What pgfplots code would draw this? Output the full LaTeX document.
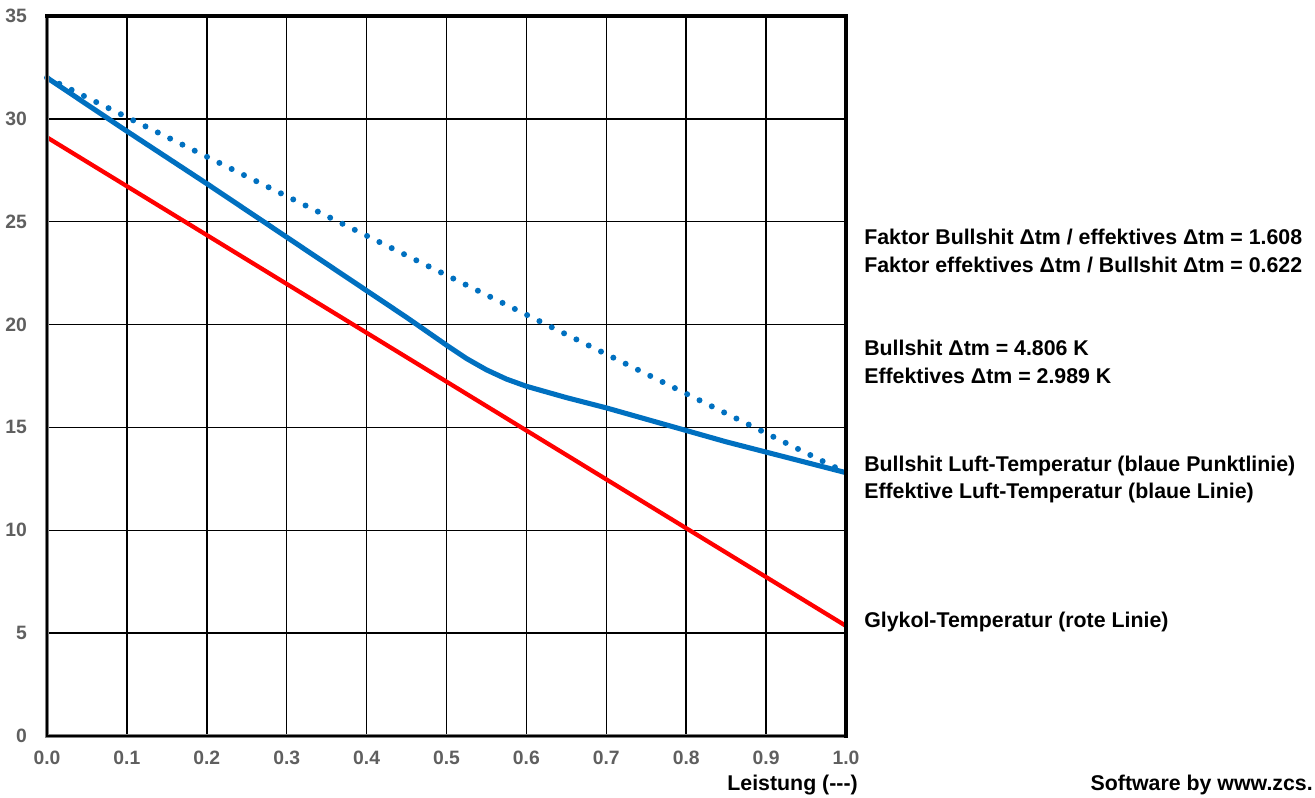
\documentclass[border=0pt]{standalone}
\usepackage{pgfplots}
\pgfplotsset{compat=1.18}
\usepackage{fontspec}
\setmainfont{Liberation Sans}

\definecolor{lineblue}{HTML}{0070C0}
\definecolor{linered}{HTML}{FF0000}
\definecolor{tickgray}{HTML}{5F5F5F}

\begin{document}
\begin{tikzpicture}
\useasboundingbox (0,0) rectangle (986.25pt,598.5pt);
\begin{axis}[
    at={(35.25pt,46.5pt)}, anchor=south west,
    scale only axis, width=599.25pt, height=540pt,
    xmin=0, xmax=1, ymin=0, ymax=35,
    xtick={0,0.1,...,1.0}, ytick={0,5,...,35},
    grid=major, major grid style={black, line width=1.1pt},
    major tick length=0pt,
    axis line style={draw=none},
    clip=false,
    tick label style={font=\fontsize{14.5}{16}\selectfont\bfseries, text=tickgray},
    /pgf/number format/assume math mode=true,
    xticklabel style={/pgf/number format/.cd, fixed, fixed zerofill, precision=1},
    xticklabel shift=7.5pt, yticklabel shift=11.5pt,
]
  % Glykol-Temperatur
  \addplot[linered, line width=3.2pt, mark=none] coordinates {(0,29.1) (1,5.35)};
  % Bullshit Luft-Temperatur (Punktlinie)
  \addplot[lineblue, line width=4.5pt, line cap=round, dash pattern=on 0pt off 10.3pt, mark=none]
    coordinates {(0,32.0) (0.5,22.4) (1,12.8)};
  % Effektive Luft-Temperatur
  \addplot[lineblue, line width=3.8pt, line join=round, mark=none] coordinates {
    (0,32.0) (0.1,29.4) (0.2,26.85) (0.3,24.25) (0.4,21.65) (0.45,20.35)
    (0.5,19.0) (0.525,18.35) (0.55,17.8) (0.575,17.35) (0.6,17.0)
    (0.65,16.45) (0.7,15.95) (0.75,15.4) (0.8,14.85) (0.85,14.3)
    (0.9,13.8) (0.95,13.3) (1.0,12.8)};
  % frame
  \draw[gray, line width=2.4pt] (rel axis cs:0,1) -- (rel axis cs:0,0) -- (rel axis cs:1,0);
  \draw[black, line width=0.8pt] (rel axis cs:0,1) -- (rel axis cs:0,0) -- (rel axis cs:1,0);
  \draw[black, line width=3pt, line cap=rect] (rel axis cs:0,1) -- (rel axis cs:1,1) -- (rel axis cs:1,0);
\end{axis}

\begin{scope}[x=0.75pt,y=0.75pt,every node/.style={anchor=west, inner sep=0pt, font=\fontsize{16}{18}\selectfont\bfseries}]
  \node at (864,561) {Faktor Bullshit Δtm / effektives Δtm = 1.608};
  \node at (864,533) {Faktor effektives Δtm / Bullshit Δtm = 0.622};
  \node at (864,450) {Bullshit Δtm = 4.806 K};
  \node at (864,422) {Effektives Δtm = 2.989 K};
  \node at (864,332) {Bullshit Luft-Temperatur (blaue Punktlinie)};
  \node at (864,305) {Effektive Luft-Temperatur (blaue Linie)};
  \node at (864,176) {Glykol-Temperatur (rote Linie)};
  \node[anchor=east] at (1313,13) {Software by www.zcs.};
  \node[anchor=east] at (858,13) {Leistung (-{}-{}-)};
\end{scope}
\end{tikzpicture}
\end{document}
